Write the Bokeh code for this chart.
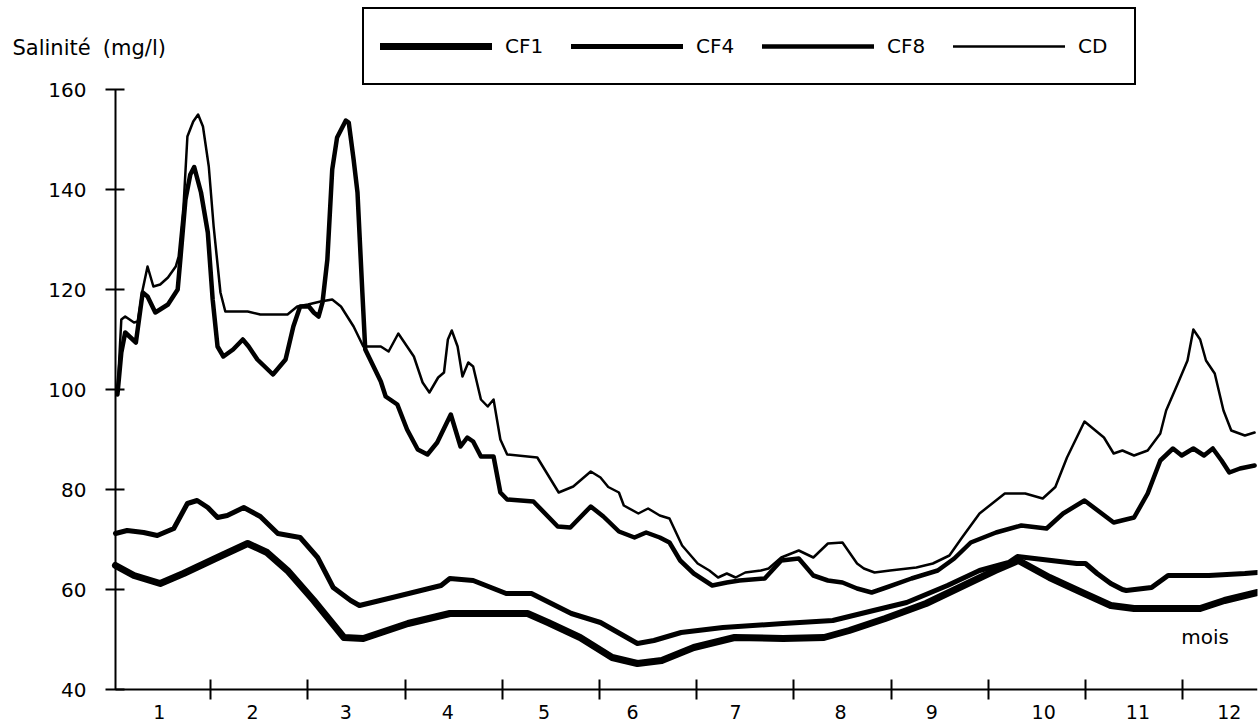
from bokeh.plotting import figure
from bokeh.models import Range1d, FixedTicker, Legend, LegendItem, Label
from bokeh.embed import file_html
from bokeh.resources import INLINE

# ---- data (x in months, y in mg/l) ----
cd_x = [0.04, 0.08, 0.12, 0.21, 0.25, 0.30, 0.35, 0.41, 0.48, 0.56, 0.64, 0.67, 0.72, 0.76, 0.82,
        0.87, 0.92, 0.98, 1.03, 1.10, 1.15, 1.38, 1.51, 1.79, 1.89, 2.00, 2.13, 2.25, 2.34, 2.47,
        2.57, 2.75, 2.83, 2.93, 3.09, 3.18, 3.25, 3.34, 3.40, 3.44, 3.48, 3.54, 3.59, 3.65, 3.70,
        3.78, 3.85, 3.91, 3.98, 4.05, 4.36, 4.58, 4.73, 4.91, 5.01, 5.09, 5.20, 5.25, 5.40, 5.50,
        5.62, 5.72, 5.85, 6.01, 6.13, 6.22, 6.31, 6.40, 6.50, 6.66, 6.74, 6.87, 7.05, 7.20, 7.35,
        7.50, 7.65, 7.72, 7.83, 7.99, 8.26, 8.43, 8.60, 8.73, 8.91, 9.17, 9.38, 9.56, 9.69, 9.81,
        9.99, 10.19, 10.29, 10.38, 10.50, 10.64, 10.77, 10.83, 10.95, 11.05, 11.11, 11.18, 11.24,
        11.33, 11.42, 11.50, 11.64, 11.74]
cd_y = [99, 114, 114.6, 113.4, 113.6, 120, 124.6, 120.6, 121, 122.4, 124.6, 126.6, 136.6, 150.6, 153.6,
        155, 152.6, 144.6, 132.6, 119.4, 115.6, 115.6, 115, 115, 116.6, 117, 117.6, 118, 116.6, 112.6,
        108.6, 108.6, 107.6, 111.2, 106.6, 101.4, 99.4, 102.4, 103.4, 110, 111.8, 108.6, 102.6, 105.4, 104.6,
        98, 96.6, 98, 90, 87, 86.4, 79.4, 80.6, 83.6, 82.4, 80.5, 79.4, 76.8, 75.2, 76.2,
        74.8, 74.2, 68.8, 65.2, 63.8, 62.4, 63.2, 62.4, 63.4, 63.8, 64.2, 66.4, 67.8, 66.4, 69.2,
        69.4, 65.2, 64.2, 63.4, 63.8, 64.4, 65.2, 66.8, 70.4, 75.2, 79.2, 79.2, 78.2, 80.5, 86.4,
        93.6, 90.4, 87.2, 87.8, 86.8, 87.8, 91.2, 95.8, 101.2, 105.8, 112, 110, 105.8,
        103.2, 95.8, 91.8, 90.8, 91.4]

cf8_x = [0.04, 0.08, 0.12, 0.23, 0.30, 0.35, 0.43, 0.56, 0.66, 0.69, 0.74, 0.79, 0.83, 0.90, 0.97,
         1.02, 1.07, 1.13, 1.23, 1.33, 1.39, 1.48, 1.64, 1.77, 1.85, 1.92, 2.01, 2.06, 2.11, 2.15,
         2.20, 2.25, 2.30, 2.39, 2.42, 2.47, 2.51, 2.56, 2.59, 2.75, 2.80, 2.92, 3.02, 3.13, 3.23,
         3.33, 3.47, 3.57, 3.64, 3.70, 3.78, 3.91, 3.98, 4.05, 4.32, 4.57, 4.70, 4.91, 5.04, 5.20,
         5.36, 5.48, 5.62, 5.72, 5.83, 5.97, 6.16, 6.31, 6.44, 6.70, 6.87, 7.05, 7.20, 7.35, 7.50,
         7.65, 7.80, 7.95, 8.21, 8.48, 8.65, 8.82, 9.08, 9.34, 9.60, 9.77, 9.99, 10.29, 10.50, 10.64,
         10.77, 10.90, 10.99, 11.11, 11.22, 11.31, 11.40, 11.48, 11.59, 11.74]
cf8_y = [99, 107.4, 111.4, 109.4, 119.4, 118.6, 115.4, 117, 120, 126.6, 138, 143, 144.5, 139.4, 131.4,
         118, 108.6, 106.6, 108, 110, 108.6, 106, 103, 106, 112.6, 116.6, 116.6, 115.4, 114.6, 117.4,
         126, 144, 150.4, 153.8, 153.4, 146, 139.4, 119.4, 108, 101.6, 98.6, 97, 92, 88, 87,
         89.4, 95, 88.6, 90.4, 89.6, 86.6, 86.6, 79.4, 78, 77.6, 72.6, 72.4, 76.6, 74.6, 71.6,
         70.4, 71.4, 70.4, 69.4, 65.8, 63.2, 60.8, 61.4, 61.8, 62.2, 65.8, 66.2, 62.8, 61.8, 61.4,
         60.2, 59.4, 60.4, 62.2, 63.8, 66.2, 69.4, 71.4, 72.8, 72.2, 75.2, 77.8, 73.4, 74.4, 79.2,
         85.8, 88.2, 86.8, 88.2, 86.8, 88.2, 85.8, 83.4, 84.2, 84.8]

cf4_x = [0.02, 0.14, 0.31, 0.45, 0.62, 0.76, 0.86, 0.97, 1.07, 1.17, 1.34, 1.51, 1.69, 1.92, 2.10,
         2.26, 2.44, 2.53, 2.87, 3.37, 3.46, 3.70, 4.04, 4.30, 4.71, 5.01, 5.39, 5.56, 5.84, 6.27,
         6.89, 7.40, 7.82, 8.16, 8.58, 8.91, 9.21, 9.30, 9.91, 10.00, 10.12, 10.26, 10.38, 10.42,
         10.68, 10.85, 10.93, 11.27, 11.64, 11.77]
cf4_y = [71.2, 71.8, 71.4, 70.8, 72.2, 77.2, 77.8, 76.4, 74.4, 74.8, 76.4, 74.6, 71.2, 70.4, 66.4,
         60.4, 57.8, 56.8, 58.4, 60.8, 62.2, 61.8, 59.2, 59.2, 55.2, 53.4, 49.2, 49.8, 51.4, 52.4,
         53.2, 53.8, 55.8, 57.4, 60.8, 63.8, 65.4, 66.6, 65.2, 65.2, 63.2, 61.2, 60, 59.8,
         60.4, 62.8, 62.8, 62.8, 63.2, 63.4]

cf1_x = [0.02, 0.21, 0.48, 0.72, 1.07, 1.38, 1.58, 1.79, 2.06, 2.37, 2.57, 3.03, 3.46, 4.26, 4.47,
         4.80, 5.13, 5.39, 5.64, 5.97, 6.39, 6.89, 7.31, 7.57, 7.94, 8.36, 8.79, 9.07, 9.31, 9.63,
         9.92, 10.26, 10.50, 11.18, 11.43, 11.77]
cf1_y = [64.8, 62.8, 61.2, 63.2, 66.4, 69.2, 67.4, 63.8, 57.8, 50.4, 50.2, 53.2, 55.2, 55.2, 53.4,
         50.4, 46.4, 45.2, 45.8, 48.4, 50.4, 50.2, 50.4, 51.8, 54.2, 57.2, 61.2, 63.8, 65.8, 62.4,
         59.8, 56.8, 56.2, 56.2, 57.8, 59.4]

series_names = ["CF1", "CF4", "CF8", "CD"]
month_labels = ["1", "2", "3", "4", "5", "6", "7", "8", "9", "10", "11", "12"]
month_bounds = [1, 2, 3, 4, 5, 6, 7, 8, 9, 10, 11]
y_ticks = [40, 60, 80, 100, 120, 140, 160]

# layout positions (not data)
month_label_pos = [0.47, 1.43, 2.39, 3.44, 4.43, 5.34, 6.40, 7.48, 8.42, 9.57, 10.54, 11.48]
X0, X1 = 0.02, 11.77
FONT = "DejaVu Sans"

p = figure(width=1259, height=722, output_backend="svg", toolbar_location=None,
           x_range=Range1d(-1.163, X1), y_range=Range1d(33.4, 177.8),
           min_border_left=0, min_border_right=2, min_border_top=0, min_border_bottom=0)
p.xgrid.visible = False
p.ygrid.visible = False
p.outline_line_color = None
p.background_fill_color = "white"

xa = p.xaxis[0]
xa.fixed_location = 40
xa.ticker = FixedTicker(ticks=month_label_pos, minor_ticks=month_bounds)
xa.major_label_overrides = {pos: lbl for pos, lbl in zip(month_label_pos, month_labels)}
xa.bounds = (X0, X1)
xa.major_tick_in = 0
xa.major_tick_out = 0
xa.minor_tick_in = 10
xa.minor_tick_out = 10
xa.minor_tick_line_width = 2
xa.minor_tick_line_color = "black"
xa.axis_line_width = 2
xa.axis_line_color = "black"
xa.major_label_standoff = 5
xa.major_label_text_font = FONT
xa.major_label_text_font_size = "19px"
xa.major_label_text_color = "black"

ya = p.yaxis[0]
ya.fixed_location = X0
ya.ticker = FixedTicker(ticks=y_ticks)
ya.bounds = (40, 160)
ya.major_tick_in = 9
ya.major_tick_out = 10
ya.major_tick_line_width = 2
ya.major_tick_line_color = "black"
ya.minor_tick_in = 0
ya.minor_tick_out = 0
ya.axis_line_width = 2
ya.axis_line_color = "black"
ya.major_label_standoff = 19
ya.major_label_text_font = FONT
ya.major_label_text_font_size = "20px"
ya.major_label_text_color = "black"

r_cf1 = p.line(cf1_x, cf1_y, line_width=7, line_color="black", line_join="round", line_cap="round")
r_cf4 = p.line(cf4_x, cf4_y, line_width=5, line_color="black", line_join="round", line_cap="round")
r_cf8 = p.line(cf8_x, cf8_y, line_width=4.5, line_color="black", line_join="round", line_cap="round")
r_cd = p.line(cd_x, cd_y, line_width=2.5, line_color="black", line_join="round", line_cap="round")

legend = Legend(
    items=[LegendItem(label=n, renderers=[r]) for n, r in zip(series_names, [r_cf1, r_cf4, r_cf8, r_cd])],
    orientation="horizontal", location=(362, 637), margin=0, padding=16,
    glyph_width=112, glyph_height=42, label_standoff=13, label_width=40, spacing=26,
    label_text_font=FONT, label_text_font_size="20px", label_text_color="black",
    border_line_color="black", border_line_width=2, border_line_alpha=1.0,
    background_fill_color="white", background_fill_alpha=1.0,
)
p.add_layout(legend)

p.add_layout(Label(x=-1.04, y=168.4, text="Salinité", text_font=FONT, text_font_size="21px",
                   text_baseline="middle", text_align="left", text_color="black"))
p.add_layout(Label(x=-0.11, y=168.4, text="(mg/l)", text_font=FONT, text_font_size="21px",
                   text_baseline="middle", text_align="left", text_color="black"))
p.add_layout(Label(x=11.23, y=50.6, text="mois", text_font=FONT, text_font_size="20px",
                   text_baseline="middle", text_align="center", text_color="black"))

open("out.html", "w").write(file_html(p, INLINE))
